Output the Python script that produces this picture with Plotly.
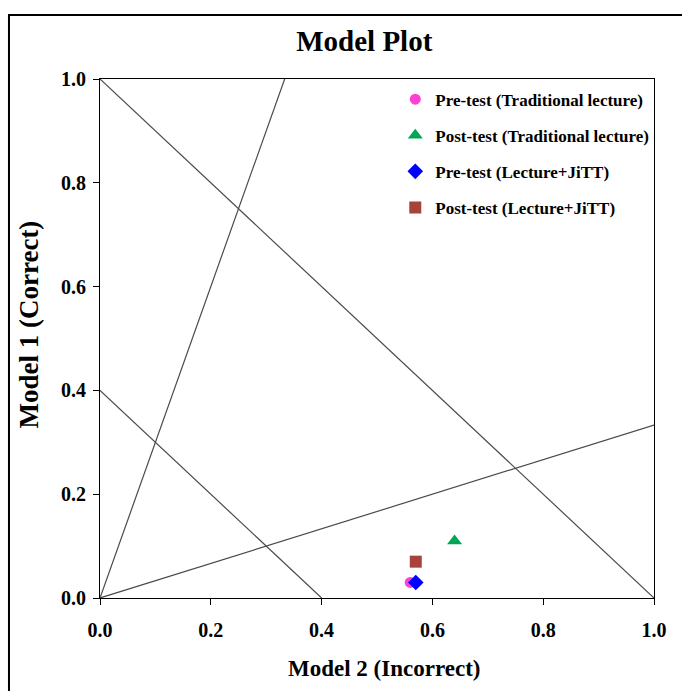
import plotly.graph_objects as go

# ---- data ----
series_names = [
    "Pre-test (Traditional lecture)",
    "Post-test (Traditional lecture)",
    "Pre-test (Lecture+JiTT)",
    "Post-test (Lecture+JiTT)",
]
model2_incorrect = [0.56, 0.64, 0.57, 0.57]
model1_correct = [0.03, 0.11, 0.03, 0.07]

# model-plot guide lines (endpoints)
guide_x = [[0, 1 / 3], [0, 1], [0, 1], [0, 0.4]]
guide_y = [[0, 1], [0, 1 / 3], [1, 0], [0.4, 0]]

tick_vals = [0.0, 0.2, 0.4, 0.6, 0.8, 1.0]
tick_text = ["0.0", "0.2", "0.4", "0.6", "0.8", "1.0"]

# ---- styles ----
marker_colors = ["#FF40D2", "#00A651", "#0000FF", "#A8423F"]
marker_symbols = ["circle", "triangle-up", "diamond", "square"]
marker_sizes = [11, 13, 12, 12]
FONT = "Times New Roman, Liberation Serif, serif"

fig = go.Figure()

for gx, gy in zip(guide_x, guide_y):
    fig.add_trace(go.Scatter(
        x=gx, y=gy, mode="lines",
        line=dict(color="#4a4a4a", width=1.2),
        showlegend=False, hoverinfo="skip",
    ))

for i, name in enumerate(series_names):
    fig.add_trace(go.Scatter(
        x=[model2_incorrect[i]], y=[model1_correct[i]],
        mode="markers", name=name, legendgroup=name,
        marker=dict(color=marker_colors[i], symbol=marker_symbols[i],
                    size=marker_sizes[i], line=dict(width=0)),
    ))

axis_common = dict(
    range=[0, 1], tickvals=tick_vals, ticktext=tick_text,
    showgrid=False, zeroline=False,
    showline=True, linecolor="black", linewidth=1, mirror=True,
    ticks="outside", ticklen=6, tickcolor="black", tickwidth=1,
    tickfont=dict(family=FONT, size=20, color="black", weight="bold"),
)

fig.update_layout(
    width=682, height=691,
    margin=dict(l=100, r=28, t=79, b=93),
    paper_bgcolor="white", plot_bgcolor="white",
    title=dict(text="Model Plot", x=0.477, xref="paper", xanchor="center",
               y=1 - 41 / 691, yref="container", yanchor="middle",
               font=dict(family=FONT, size=29, color="black", weight="bold")),
    xaxis=dict(**axis_common, ticklabelstandoff=8),
    yaxis=dict(**axis_common, ticklabelstandoff=3),
    legend=dict(x=0.533, y=0.995, xanchor="left", yanchor="top",
                bgcolor="rgba(0,0,0,0)", borderwidth=0,
                traceorder="grouped", tracegroupgap=11,
                font=dict(family=FONT, size=17, color="black", weight="bold")),
    showlegend=True,
    annotations=[
        dict(text="Model 2 (Incorrect)", xref="paper", yref="paper",
             x=0.513, y=-0.135, xanchor="center", yanchor="middle",
             showarrow=False,
             font=dict(family=FONT, size=23, color="black", weight="bold")),
        dict(text="Model 1 (Correct)", xref="paper", yref="paper",
             x=-0.129, y=0.526, xanchor="center", yanchor="middle",
             textangle=-90, showarrow=False,
             font=dict(family=FONT, size=27, color="black", weight="bold")),
    ],
    shapes=[
        dict(type="rect", xref="paper", yref="paper",
             x0=-0.1643, x1=1.3, y0=-0.5, y1=1.1233,
             line=dict(color="black", width=2), fillcolor="rgba(0,0,0,0)",
             layer="above"),
    ],
)

fig.write_html("out.html",
               config={"displayModeBar": False},
               post_script="document.body.style.margin='0';document.body.style.overflow='hidden';")
